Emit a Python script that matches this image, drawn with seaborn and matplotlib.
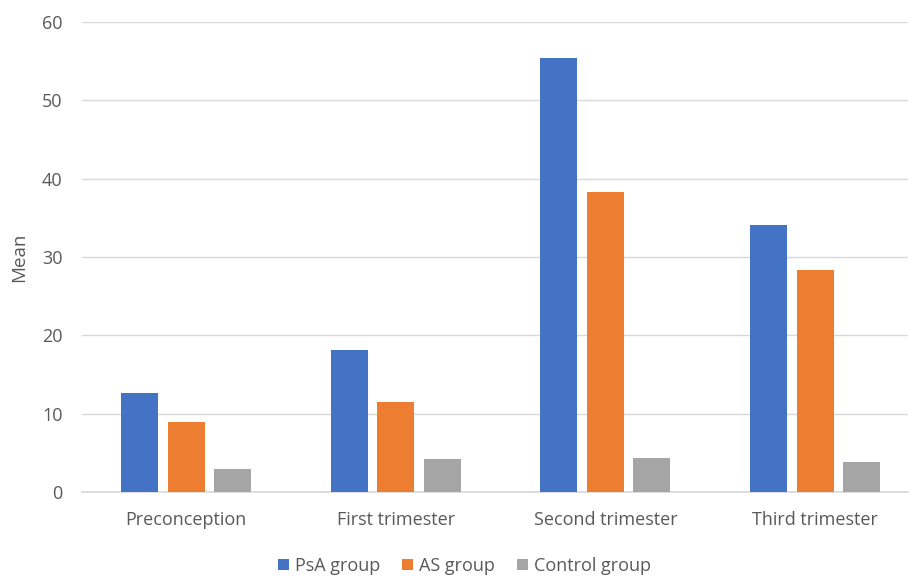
import matplotlib
matplotlib.use("Agg")
import matplotlib.pyplot as plt
import seaborn as sns
import pandas as pd

categories = ["Preconception", "First trimester", "Second trimester", "Third trimester"]
groups = ["PsA group", "AS group", "Control group"]
psa_values = [12.7, 18.1, 55.4, 34.1]
as_values = [9.0, 11.5, 38.3, 28.4]
control_values = [3.0, 4.2, 4.3, 3.8]
colors = ["#4472C4", "#ED7D31", "#A5A5A5"]
y_ticks = [0, 10, 20, 30, 40, 50, 60]

rows = []
for g, vals in zip(groups, [psa_values, as_values, control_values]):
    for c, v in zip(categories, vals):
        rows.append({"Period": c, "Group": g, "Mean": v})
df = pd.DataFrame(rows)

sns.set_theme(style="white")
plt.rcParams["font.family"] = ["Open Sans", "DejaVu Sans"]
text_color = "#595959"

fig = plt.figure(figsize=(9.09, 5.77), dpi=100)
ax = fig.add_axes([82 / 909, 1 - 492 / 577, 826 / 909, 470 / 577])

sns.barplot(data=df, x="Period", y="Mean", hue="Group", order=categories,
            hue_order=groups, palette=colors, width=0.665, gap=0.204,
            saturation=1, edgecolor="none", ax=ax, zorder=3)

ax.set_xlim(-0.496, 3.443)
ax.set_ylim(0, 60)
ax.set_yticks(y_ticks)
ax.yaxis.grid(True, color="#D9D9D9", linewidth=1.0, zorder=0)
ax.set_axisbelow(True)
for s in ["top", "right", "left"]:
    ax.spines[s].set_visible(False)
ax.spines["bottom"].set_color("#D9D9D9")
ax.spines["bottom"].set_linewidth(1.2)
ax.tick_params(axis="both", length=0, labelsize=13, colors=text_color)
ax.tick_params(axis="y", pad=14)
ax.tick_params(axis="x", pad=14)
ax.set_xlabel("")
ax.set_ylabel("Mean", fontsize=13.5, color=text_color, labelpad=10)

handles, labels = ax.get_legend_handles_labels()
ax.legend_.remove()
fig.legend(handles, labels, loc="center", bbox_to_anchor=(0.511, 1 - 566 / 577),
           ncol=3, frameon=False, fontsize=13, labelcolor=text_color,
           handlelength=0.6, handleheight=0.6, handletextpad=0.35, columnspacing=1.2)

fig.savefig("out.png", dpi=100)
